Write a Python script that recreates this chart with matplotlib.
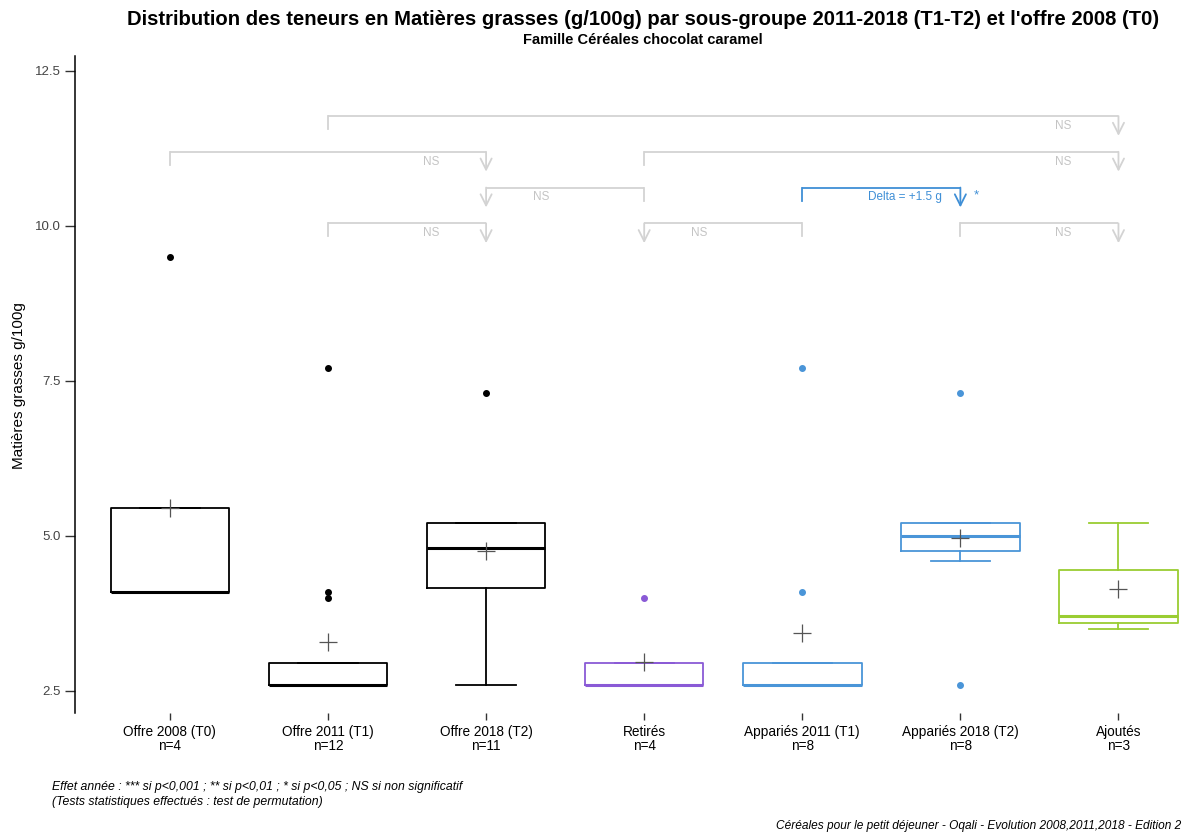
import numpy as np
import matplotlib
matplotlib.use('Agg')
import matplotlib.pyplot as plt

plt.rcParams['font.family'] = ['Liberation Sans', 'DejaVu Sans']

groups = ['Offre 2008 (T0)', 'Offre 2011 (T1)', 'Offre 2018 (T2)', 'Retirés',
          'Appariés 2011 (T1)', 'Appariés 2018 (T2)', 'Ajoutés']
n_obs = [4, 12, 11, 4, 8, 8, 3]
q1 = [4.1, 2.6, 4.15, 2.6, 2.6, 4.75, 3.6]
med = [4.1, 2.6, 4.8, 2.6, 2.6, 5.0, 3.7]
q3 = [5.45, 2.95, 5.2, 2.95, 2.95, 5.2, 4.45]
whislo = [4.1, 2.6, 2.6, 2.6, 2.6, 4.6, 3.5]
whishi = [5.45, 2.95, 5.2, 2.95, 2.95, 5.2, 5.2]
means = [5.45, 3.28, 4.76, 2.97, 3.43, 4.97, 4.14]
fliers = [[9.5], [4.0, 4.1, 7.7], [7.3], [4.0], [4.1, 7.7], [2.6, 7.3], []]
colors = ['black', 'black', 'black', '#8a5ad6', '#4a95d8', '#4a95d8', '#9acd32']

# comparisons: from group, to group (1-based), bracket row, label
comp_from = [2, 1, 4, 4, 5, 2, 5, 6]
comp_to = [7, 3, 7, 3, 6, 3, 4, 7]
comp_row = [3, 2, 2, 1, 1, 0, 0, 0]
comp_label = ['NS', 'NS', 'NS', 'NS', 'Delta = +1.5 g', 'NS', 'NS', 'NS']
comp_star = ['', '', '', '', '*', '', '', '']

grey = '#d3d3d3'
blue = '#3f8fd6'

fig = plt.figure(figsize=(11.82, 8.33), dpi=100)
ax = fig.add_axes([0.0635, 0.1444, 0.963, 0.7884])

pos = np.arange(1, len(groups) + 1)
stats = []
for i in range(len(groups)):
    stats.append(dict(q1=q1[i], med=med[i], q3=q3[i], whislo=whislo[i],
                      whishi=whishi[i], mean=means[i], fliers=fliers[i]))

bp = ax.bxp(stats, positions=pos, widths=0.75, capwidths=0.375, showmeans=True,
            meanprops=dict(marker='+', markersize=13, markeredgecolor='#555555',
                           markeredgewidth=0.9))
for i, c in enumerate(colors):
    bp['boxes'][i].set(color=c, linewidth=1.3)
    bp['medians'][i].set(color=c, linewidth=2.2)
    for k in (2 * i, 2 * i + 1):
        bp['whiskers'][k].set(color=c, linewidth=1.3)
        bp['caps'][k].set(color=c, linewidth=1.3)
    bp['fliers'][i].set(marker='o', markersize=4, markerfacecolor=c,
                        markeredgecolor=c)

# significance brackets
base, step = 10.04, 0.577
for a, b, r, lab, star in zip(comp_from, comp_to, comp_row, comp_label, comp_star):
    lvl = base + r * step
    col = blue if star else grey
    ax.plot([a, b], [lvl, lvl], color=col, lw=1.3, solid_capstyle='butt')
    ax.plot([a, a], [lvl, lvl - 0.21], color=col, lw=1.3)
    ax.annotate('', xy=(b, lvl - 0.32), xytext=(b, lvl),
                arrowprops=dict(arrowstyle='->', color=col, lw=1.3,
                                mutation_scale=20, shrinkA=0, shrinkB=0))
    sgn = 1 if b > a else -1
    ax.text(b - sgn * 0.35, lvl - 0.16, lab, color=blue if star else '#c4c4c4',
            fontsize=8.5, ha='center', va='center')
    if star:
        ax.text(b + 0.1, lvl - 0.12, star, color=blue, fontsize=9.5,
                ha='center', va='center')

ax.set_xlim(0.4, 7.6)
ax.set_ylim(2.145, 12.74)
ax.set_yticks([2.5, 5.0, 7.5, 10.0, 12.5])
ax.set_yticklabels(['2.5', '5.0', '7.5', '10.0', '12.5'])
ax.set_xticks(pos)
ax.set_xticklabels([f'{g}\nn={k}' for g, k in zip(groups, n_obs)], linespacing=0.95)
for s in ('top', 'right', 'bottom'):
    ax.spines[s].set_visible(False)
ax.spines['left'].set_linewidth(1.1)
ax.tick_params(axis='y', length=7, width=1, labelsize=9.5, colors='#333333',
               labelcolor='#444444')
ax.tick_params(axis='x', length=5, width=1, labelsize=9.8, colors='#333333',
               labelcolor='black', pad=4)

fig.text(0.016, 0.5375, 'Matières grasses g/100g', rotation=90, fontsize=11,
         ha='center', va='center')
fig.text(0.544, 0.977, "Distribution des teneurs en Matières grasses (g/100g) par sous-groupe "
         "2011-2018 (T1-T2) et l'offre 2008 (T0)", ha='center', va='center',
         fontsize=14.6, fontweight='bold')
fig.text(0.544, 0.952, 'Famille Céréales chocolat caramel', ha='center', va='center',
         fontsize=10.5, fontweight='bold')
fig.text(0.044, 0.0552, 'Effet année : *** si p<0,001 ; ** si p<0,01 ; * si p<0,05 ; '
         'NS si non significatif', fontsize=8.8, style='italic', va='center')
fig.text(0.044, 0.0372, '(Tests statistiques effectués : test de permutation)',
         fontsize=8.8, style='italic', va='center')
fig.text(0.999, 0.008, 'Céréales pour le petit déjeuner - Oqali - Evolution 2008,2011,2018 '
         '- Edition 2', fontsize=8.6, style='italic', ha='right', va='center')

fig.savefig('out.png', dpi=100)
